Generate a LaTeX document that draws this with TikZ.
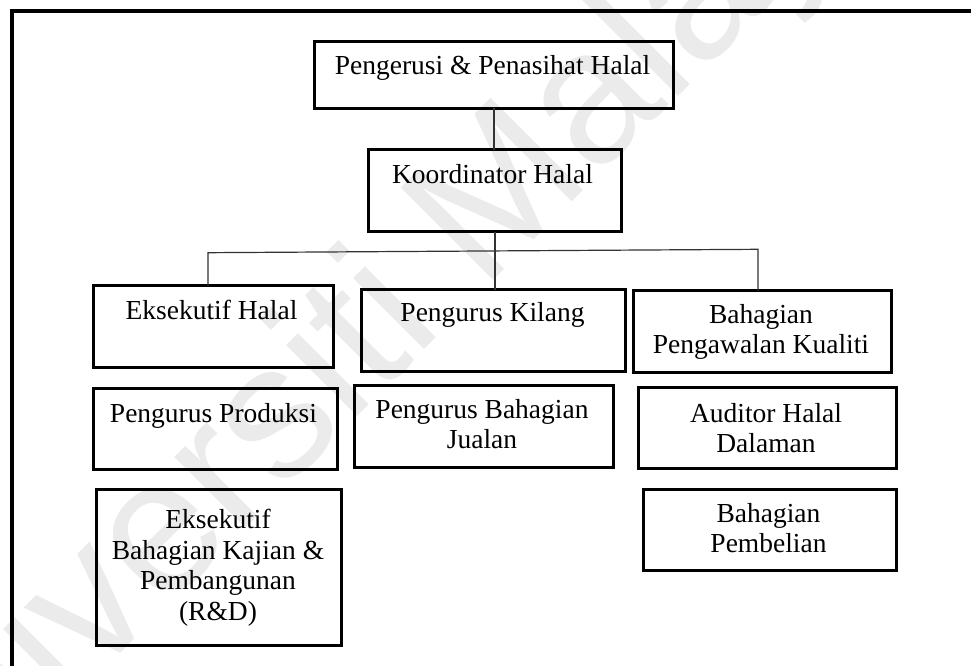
\documentclass[tikz,border=0pt]{standalone}
\usepackage{fontspec}
\setmainfont{Liberation Serif}
\newfontfamily\wmfont{Liberation Sans}
\begin{document}
\begin{tikzpicture}[x=1pt,y=-1pt,
  box/.style={draw=black, line width=3.3pt, rectangle, inner sep=0pt, outer sep=0pt, anchor=north west},
  txt/.style={anchor=north, inner sep=0pt, align=center, text=black, font=\fontsize{27.5}{30.5}\selectfont},
  conn/.style={draw=black!80, line width=1.2pt}]
\useasboundingbox (0,0) rectangle (971,666);
\clip (0,0) rectangle (971,666);
\fill[white] (0,0) rectangle (971,666);

% faint watermark across the page
\node[rotate=45, inner sep=0pt, text=black!8, font=\wmfont\fontsize{190}{190}\selectfont] (wm) at (370,335) {Universiti Malaya};

% page frame (left and top edges)
\draw[line width=4pt] (12,690) -- (12,11) -- (990,11);

% boxes
\node[box, minimum width=359pt, minimum height=67pt] (pen) at (314.5,41.5) {};
\node[box, minimum width=253pt, minimum height=82pt] (kh)  at (368.5,149.5) {};
\node[box, minimum width=240pt, minimum height=82pt] (eh)  at (93.5,285.5) {};
\node[box, minimum width=264pt, minimum height=82pt] (pk)  at (361.5,289.5) {};
\node[box, minimum width=258pt, minimum height=82pt] (bpk) at (633.5,290.5) {};
\node[box, minimum width=244pt, minimum height=81pt] (pp)  at (93.5,388.5) {};
\node[box, minimum width=259pt, minimum height=82pt] (pbj) at (354.5,385.5) {};
\node[box, minimum width=258pt, minimum height=81pt] (ahd) at (638.5,387.5) {};
\node[box, minimum width=245pt, minimum height=156pt] (rd) at (96.5,489.5) {};
\node[box, minimum width=253pt, minimum height=81pt] (bp)  at (643.5,489.5) {};

% box texts
\node[txt] (pen-t) at (492.5,55) {Pengerusi \& Penasihat Halal};
\node[txt] (kh-t)  at (492.5,164) {Koordinator Halal};
\node[txt] (eh-t)  at (211.5,300) {Eksekutif Halal};
\node[txt] (pk-t)  at (492.5,302) {Pengurus Kilang};
\node[txt] (bpk-t) at (761,304) {Bahagian\\Pengawalan Kualiti};
\node[txt] (pp-t)  at (213.5,403) {Pengurus Produksi};
\node[txt] (pbj-t) at (482,399) {Pengurus Bahagian\\Jualan};
\node[txt] (ahd-t) at (766,403) {Auditor Halal\\Dalaman};
\node[txt] (rd-t)  at (218,509) {Eksekutif\\Bahagian Kajian \&\\Pembangunan\\(R\&D)};
\node[txt] (bp-t)  at (768.5,503) {Bahagian\\Pembelian};

% connectors
\coordinate (busL) at (208,252.7);
\coordinate (busR) at (758,249.3);
\draw[conn] (pen.south) -- (pen.south |- kh.north);
\draw[conn] (kh.south) -- (kh.south |- pk.north);
\draw[conn] (busL |- eh.north) -- (busL) -- (busR) -- (busR |- bpk.north);
\end{tikzpicture}
\end{document}
